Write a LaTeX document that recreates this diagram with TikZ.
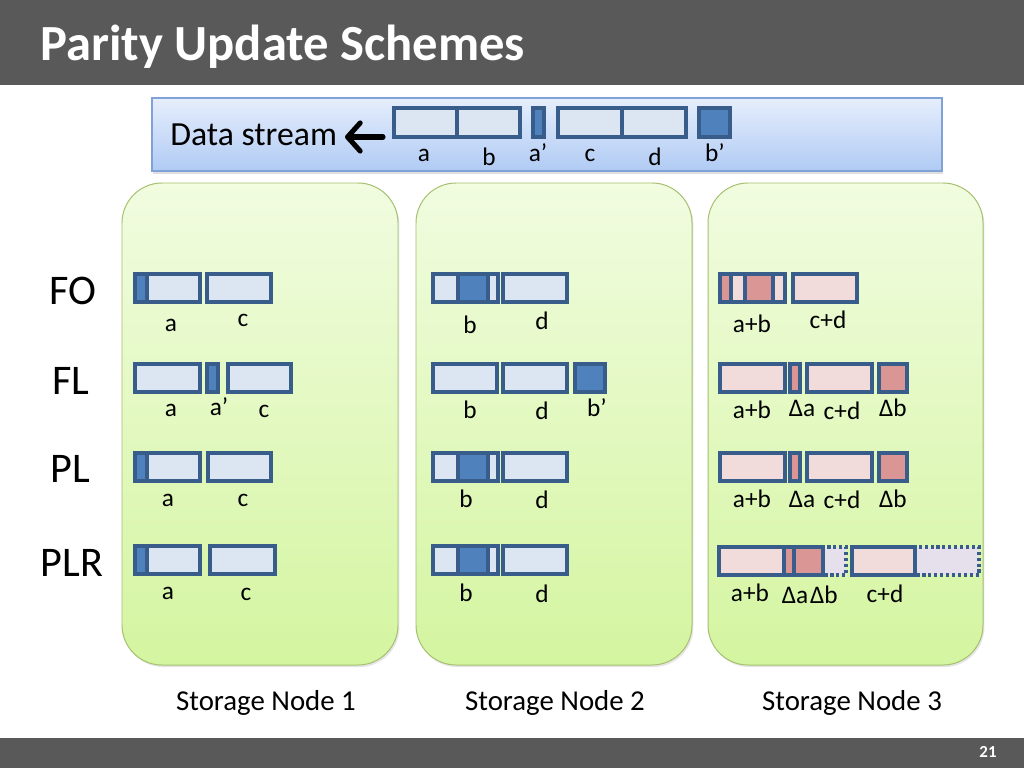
\documentclass[tikz,border=0pt]{standalone}
\usepackage{fontspec}
\setmainfont{Carlito}
\usetikzlibrary{arrows.meta,shadows}
\definecolor{barGray}{RGB}{89,89,89}
\definecolor{blkLine}{RGB}{56,93,138}
\definecolor{blkFill}{RGB}{220,230,242}
\definecolor{blkDark}{RGB}{79,129,189}
\definecolor{parFill}{RGB}{242,220,219}
\definecolor{parDark}{RGB}{217,150,148}
\definecolor{spareFill}{RGB}{230,224,236}
\definecolor{nodeTop}{RGB}{241,252,224}
\definecolor{nodeBot}{RGB}{212,245,160}
\definecolor{nodeLine}{RGB}{165,192,110}
\definecolor{streamTop}{RGB}{230,238,252}
\definecolor{streamBot}{RGB}{176,203,244}
\definecolor{streamLine}{RGB}{128,162,214}
\tikzset{
  blk/.style={draw=blkLine,line width=2.2pt,fill=blkFill},
  blkd/.style={blk,fill=blkDark},
  par/.style={blk,fill=parFill},
  pard/.style={blk,fill=parDark},
  spare/.style={draw=blkLine,line width=2.2pt,dotted,fill=spareFill},
  nodebox/.style={draw=nodeLine,line width=0.7pt,rounded corners=1cm,
    top color=nodeTop,bottom color=nodeBot,
    drop shadow={opacity=0.2,shadow xshift=1pt,shadow yshift=-1.5pt}},
  lbl/.style={anchor=base,inner sep=0pt,font=\fontsize{18}{20}\selectfont},
  rowlbl/.style={anchor=base,inner sep=0pt,font=\fontsize{30}{34}\selectfont},
  caption/.style={anchor=base,inner sep=0pt,font=\fontsize{20.5}{24}\selectfont}
}

\begin{document}
\begin{tikzpicture}[x=0.025cm,y=-0.025cm]
\useasboundingbox (0,0) rectangle (1024,768);
\fill[white] (0,0) rectangle (1024,768);

% title and footer
\fill[barGray] (0,0) rectangle (1024,85);
\fill[barGray] (0,738) rectangle (1024,768);
\node[anchor=base west,inner sep=0pt,text=white,
  font=\bfseries\fontsize{36}{40}\selectfont] (title) at (40,61) {Parity Update Schemes};
\node[anchor=base,inner sep=0pt,text=white,
  font=\bfseries\fontsize{12}{14}\selectfont] (pnum) at (988,757) {21};

% data stream
\draw[draw=streamLine,line width=0.8pt,top color=streamTop,bottom color=streamBot,
  drop shadow={opacity=0.25,shadow xshift=1pt,shadow yshift=-2pt}] (152,98) rectangle (942,171);
\node[anchor=base west,inner sep=0pt,font=\fontsize{24}{28}\selectfont] (dstream) at (170,146) {Data stream};
\coordinate (arrTail) at (383,137);
\coordinate (arrTip) at (345,137);
\draw[line width=3.6pt,line cap=round,
  -{Straight Barb[length=9pt,width=20pt,round]}] (arrTail) -- (arrTip);

\draw[blk] (394,108) rectangle (457,137);
\draw[blk] (457,108) rectangle (520,137);
\draw[blkd] (533,108) rectangle (544,137);
\draw[blk] (558,108) rectangle (622,137);
\draw[blk] (622,108) rectangle (686,137);
\draw[blkd] (699,108) rectangle (730,137);
\node[lbl] (s-a) at (424,161) {a};
\node[lbl] (s-b) at (489,165) {b};
\node[lbl] (s-ap) at (538,162) {a’};
\node[lbl] (s-c) at (590,161) {c};
\node[lbl] (s-d) at (655,165) {d};
\node[lbl] (s-bp) at (715,162) {b’};

% storage nodes
\draw[nodebox] (122,183) rectangle (398,665);
\draw[nodebox] (416,183) rectangle (692,665);
\draw[nodebox] (708,183) rectangle (983,665);
\node[caption] (cap1) at (266,710) {Storage Node 1};
\node[caption] (cap2) at (555,710) {Storage Node 2};
\node[caption] (cap3) at (852,710) {Storage Node 3};

% row names
\node[rowlbl] (fo) at (73,304) {FO};
\node[rowlbl] (fl) at (71,394) {FL};
\node[rowlbl] (pl) at (70,482) {PL};
\node[rowlbl] (plr) at (72,576) {PLR};

% node 1
\draw[blk] (135,274) rectangle (200,302);
\draw[blkd] (135,274) rectangle (147,302);
\draw[blk] (207,274) rectangle (271,302);
\node[lbl] (n1fo-a) at (171,331) {a};
\node[lbl] (n1fo-c) at (243,326) {c};

\draw[blk] (135,364) rectangle (200,392);
\draw[blkd] (207,364) rectangle (218,392);
\draw[blk] (228,364) rectangle (291,392);
\node[lbl] (n1fl-a) at (171,416) {a};
\node[lbl] (n1fl-ap) at (219,415) {a’};
\node[lbl] (n1fl-c) at (264,417) {c};

\draw[blk] (135,453) rectangle (200,481);
\draw[blkd] (135,453) rectangle (147,481);
\draw[blk] (208,453) rectangle (271,481);
\node[lbl] (n1pl-a) at (168,506) {a};
\node[lbl] (n1pl-c) at (243,506) {c};

\draw[blk] (135,546) rectangle (200,574);
\draw[blkd] (135,546) rectangle (147,574);
\draw[blk] (210,546) rectangle (275,574);
\node[lbl] (n1plr-a) at (168,599) {a};
\node[lbl] (n1plr-c) at (246,600) {c};

% node 2
\draw[blk] (433,274) rectangle (498,302);
\draw[blkd] (458,274) rectangle (488,302);
\draw[blk] (503,274) rectangle (567,302);
\node[lbl] (n2fo-b) at (470,333) {b};
\node[lbl] (n2fo-d) at (542,329) {d};

\draw[blk] (433,364) rectangle (497,392);
\draw[blk] (503,364) rectangle (567,392);
\draw[blkd] (575,364) rectangle (605,392);
\node[lbl] (n2fl-b) at (470,418) {b};
\node[lbl] (n2fl-d) at (542,419) {d};
\node[lbl] (n2fl-bp) at (597,416) {b’};

\draw[blk] (433,453) rectangle (498,481);
\draw[blkd] (458,453) rectangle (488,481);
\draw[blk] (503,453) rectangle (567,481);
\node[lbl] (n2pl-b) at (466,507) {b};
\node[lbl] (n2pl-d) at (542,508) {d};

\draw[blk] (433,546) rectangle (498,574);
\draw[blkd] (458,546) rectangle (488,574);
\draw[blk] (503,546) rectangle (567,574);
\node[lbl] (n2plr-b) at (466,601) {b};
\node[lbl] (n2plr-d) at (542,602) {d};

% node 3
\draw[par] (720,274) rectangle (785,302);
\draw[pard] (720,274) rectangle (731,302);
\draw[pard] (745,274) rectangle (773,302);
\draw[par] (793,274) rectangle (857,302);
\node[lbl] (n3fo-ab) at (752,332) {a+b};
\node[lbl] (n3fo-cd) at (828,328) {c+d};

\draw[par] (720,364) rectangle (785,392);
\draw[pard] (790,364) rectangle (800,392);
\draw[par] (807,364) rectangle (872,392);
\draw[pard] (879,364) rectangle (907,392);
\node[lbl] (n3fl-ab) at (752,418) {a+b};
\node[lbl] (n3fl-da) at (802,416) {Δa};
\node[lbl] (n3fl-cd) at (842,419) {c+d};
\node[lbl] (n3fl-db) at (893,416) {Δb};

\draw[par] (720,453) rectangle (785,481);
\draw[pard] (790,453) rectangle (800,481);
\draw[par] (807,453) rectangle (872,481);
\draw[pard] (879,453) rectangle (907,481);
\node[lbl] (n3pl-ab) at (752,507) {a+b};
\node[lbl] (n3pl-da) at (802,507) {Δa};
\node[lbl] (n3pl-cd) at (842,508) {c+d};
\node[lbl] (n3pl-db) at (893,507) {Δb};

\draw[spare] (823,547) rectangle (846,575);
\draw[spare] (915,547) rectangle (979,575);
\draw[par] (719,547) rectangle (784,575);
\draw[pard] (784,547) rectangle (794,575);
\draw[pard] (794,547) rectangle (823,575);
\draw[par] (852,547) rectangle (915,575);
\node[lbl] (n3plr-ab) at (750,601) {a+b};
\node[lbl] (n3plr-da) at (795,603) {Δa};
\node[lbl] (n3plr-db) at (824,603) {Δb};
\node[lbl] (n3plr-cd) at (885,602) {c+d};
\end{tikzpicture}
\end{document}
